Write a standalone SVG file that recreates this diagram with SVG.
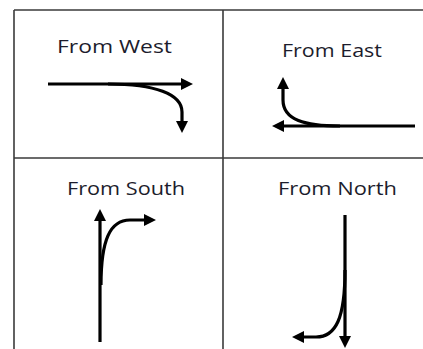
<svg xmlns="http://www.w3.org/2000/svg" width="423" height="349" viewBox="0 0 423 349">
<style>
.grid{stroke:#3a3a3a;stroke-width:1.6;fill:none}
.lbl{font-family:"Open Sans","Liberation Sans",sans-serif;font-size:19px;fill:#1c1c2c}
.arr{stroke:#000;stroke-width:3.2;fill:none;marker-end:url(#ah)}
</style>
<defs>
<marker id="ah" markerUnits="userSpaceOnUse" markerWidth="13" markerHeight="14" refX="1" refY="7" orient="auto" viewBox="0 0 13 14">
<path d="M0,1 L12,7 L0,13 z" fill="#000"/>
</marker>
</defs>
<rect width="423" height="349" fill="#fff"/>
<g id="grid">
<line class="grid" x1="14" y1="10" x2="423" y2="10"/>
<line class="grid" x1="14" y1="10" x2="14" y2="349"/>
<line class="grid" x1="223" y1="10" x2="223" y2="349"/>
<line class="grid" x1="14" y1="158" x2="423" y2="158"/>
</g>
<g id="west">
<text class="lbl" x="57" y="53" textLength="115" lengthAdjust="spacingAndGlyphs">From West</text>
</g>
<g id="east">
<text class="lbl" x="282" y="57" textLength="100" lengthAdjust="spacingAndGlyphs">From East</text>
</g>
<g id="south">
<text class="lbl" x="67" y="195" textLength="118" lengthAdjust="spacingAndGlyphs">From South</text>
</g>
<g id="north">
<text class="lbl" x="278" y="195" textLength="119" lengthAdjust="spacingAndGlyphs">From North</text>
</g>
<g id="connectors">
<path class="arr" d="M48,84 L182,84"/>
<path class="arr" d="M108,84 C155,84 182,94 182,112 L182,122"/>
<path class="arr" d="M415,126 L283,126"/>
<path class="arr" d="M340,126 C305,126 283,120 283,100 L283,88"/>
<path class="arr" d="M100,342 L100,220"/>
<path class="arr" d="M101,285 C101,240 110,220 130,220 L145,220"/>
<path class="arr" d="M345,215 L345,337"/>
<path class="arr" d="M345,270 C345,318 336,337 316,337 L303,337"/>
</g>
</svg>
